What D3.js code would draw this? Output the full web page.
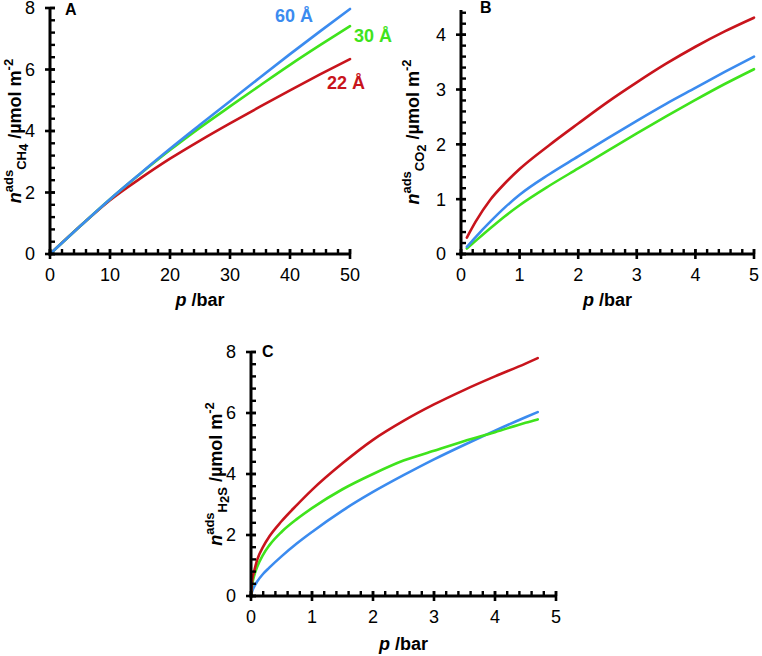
<!DOCTYPE html>
<html><head><meta charset="utf-8">
<script src="https://cdn.jsdelivr.net/npm/d3@7"></script>
<style>
body{margin:0;background:#fff;}
svg{display:block;font-family:"Liberation Sans",Arial,sans-serif;}
</style></head>
<body><svg id="c" width="762" height="656"></svg>
<script>
// ---------- data ----------
const pA = [0,5,10,15,20,25,30,35,40,45,50];
const a60 = [0,0.9,1.78,2.61,3.42,4.2,4.97,5.74,6.5,7.24,7.97];
const a30 = [0,0.9,1.78,2.6,3.38,4.11,4.8,5.48,6.15,6.79,7.41];
const a22 = [0,0.9,1.75,2.45,3.1,3.69,4.25,4.79,5.32,5.84,6.34];

const pB = [0.1,0.25,0.5,0.75,1,1.5,2,2.5,3,3.5,4,4.5,5];
const b60 = [0.13,0.31,0.59,0.85,1.08,1.45,1.78,2.11,2.43,2.74,3.03,3.32,3.60];
const b30 = [0.10,0.24,0.47,0.69,0.89,1.24,1.56,1.88,2.20,2.51,2.81,3.10,3.37];
const b22 = [0.30,0.59,0.99,1.29,1.55,1.98,2.38,2.77,3.13,3.47,3.78,4.06,4.31];

const pC = [0,0.02,0.05,0.1,0.2,0.3,0.5,0.75,1,1.5,2,2.5,3,3.5,4,4.5,4.7];
const c60 = [0,0.16,0.3,0.47,0.73,0.93,1.3,1.72,2.1,2.8,3.41,3.96,4.48,4.96,5.42,5.86,6.03];
const c30 = [0,0.38,0.65,0.95,1.36,1.66,2.1,2.52,2.88,3.5,4.0,4.44,4.76,5.08,5.37,5.68,5.79];
const c22 = [0,0.52,0.8,1.18,1.62,1.95,2.45,2.98,3.48,4.35,5.12,5.74,6.28,6.76,7.2,7.62,7.8];

const seriesNames = ["60 Å","30 Å","22 Å"];
const colors = {"60 Å":"#3b8bef","30 Å":"#3fe31c","22 Å":"#c8141c"};

const xTicksA = [0,10,20,30,40,50], yTicksA = [0,2,4,6,8];
const xTicksB = [0,1,2,3,4,5], yTicksB = [0,1,2,3,4];
const xTicksC = [0,1,2,3,4,5], yTicksC = [0,2,4,6,8];

const svg = d3.select("#c");
const fmt = d3.format("d");

function range(a,b,s){const r=[];for(let i=0;a+i*s<=b+1e-9;i++)r.push(+(a+i*s).toFixed(6));return r;}

function panel(cfg){
  const x = d3.scaleLinear().domain(cfg.xd).range(cfg.xr);
  const y = d3.scaleLinear().domain(cfg.yd).range(cfg.yr);
  const g = svg.append("g");
  const x0 = cfg.xr[0], y0 = cfg.yr[0];

  const line = d3.line().x(d=>x(d[0])).y(d=>y(d[1])).curve(d3.curveMonotoneX);
  cfg.series.forEach(s=>{
    g.append("path").datum(s.p.map((v,i)=>[v,s.v[i]]))
      .attr("d",line).attr("fill","none").attr("stroke",colors[s.name])
      .attr("stroke-width",2.6).attr("stroke-linecap","round");
  });

  const ax = g.append("g").attr("fill","#000");
  const tw = 2.6, mw = 2.4, ml = 5, Ml = 5;
  ax.selectAll(".ym").data(cfg.yMinor).join("rect").attr("class","ym")
    .attr("x",x0).attr("width",ml).attr("y",d=>y(d)-mw/2).attr("height",mw);
  ax.selectAll(".xm").data(cfg.xMinor).join("rect").attr("class","xm")
    .attr("y",y0-ml).attr("height",ml).attr("x",d=>x(d)-mw/2).attr("width",mw);
  ax.selectAll(".yM").data(cfg.yTicks).join("rect").attr("class","yM")
    .attr("x",x0-Ml).attr("width",2*Ml).attr("y",d=>y(d)-tw/2).attr("height",tw);
  ax.selectAll(".xM").data(cfg.xTicks).join("rect").attr("class","xM")
    .attr("y",y0-Ml).attr("height",2*Ml).attr("x",d=>x(d)-tw/2).attr("width",tw);
  ax.append("rect").attr("x",x0-1.5).attr("width",3).attr("y",cfg.yr[1]).attr("height",y0-cfg.yr[1]+1.5);
  ax.append("rect").attr("x",x0-1.5).attr("width",cfg.xr[1]-x0+1.5).attr("y",y0-1.5).attr("height",3);

  g.selectAll(".yl").data(cfg.yTicks).join("text").attr("class","yl")
    .attr("x",x0-15).attr("y",d=>y(d)).attr("dy","0.36em").attr("text-anchor","end")
    .attr("font-size",18).attr("fill","#000").text(fmt);
  g.selectAll(".xl").data(cfg.xTicks).join("text").attr("class","xl")
    .attr("x",d=>x(d)).attr("y",y0+14).attr("dy","0.71em").attr("text-anchor","middle")
    .attr("font-size",18).attr("fill","#000").text(fmt);

  g.append("text").attr("x",cfg.letterPos[0]).attr("y",cfg.letterPos[1])
    .attr("font-size",16).attr("font-weight","bold").text(cfg.letter);

  const xt = g.append("text").attr("x",(cfg.xr[0]+cfg.xr[1])/2).attr("y",cfg.xTitleY)
    .attr("text-anchor","middle").attr("font-size",18).attr("font-weight","bold");
  xt.append("tspan").attr("font-style","italic").text("p");
  xt.append("tspan").text(" /bar");

  const yc = (cfg.yr[0]+cfg.yr[1])/2;
  const yt = g.append("text").attr("transform",`translate(${cfg.yTitleX},${yc}) rotate(-90)`)
    .attr("text-anchor","middle").attr("font-size",18).attr("font-weight","bold");
  yt.append("tspan").attr("font-style","italic").text("n");
  yt.append("tspan").attr("font-size",13).attr("dy",-8).text("ads");
  yt.append("tspan").attr("font-size",13).attr("dy",13).text(cfg.subA);
  yt.append("tspan").attr("font-size",13).attr("dy",2).text(cfg.subB);
  if(cfg.subC) yt.append("tspan").attr("font-size",13).attr("dy",-2).text(cfg.subC);
  yt.append("tspan").attr("dy",cfg.subC ? -5 : -7).text(" /µmol m");
  yt.append("tspan").attr("font-size",13).attr("dy",-8).text("-2");
  return {x,y,g};
}

const A = panel({
  xd:[0,50], xr:[50,350], yd:[0,8], yr:[254,8],
  xTicks:xTicksA, yTicks:yTicksA, xMinor:range(0,50,2), yMinor:range(0,8,0.4),
  series:[{name:"22 Å",p:pA,v:a22},{name:"30 Å",p:pA,v:a30},{name:"60 Å",p:pA,v:a60}],
  letter:"A", letterPos:[65,15], xTitleY:306, yTitleX:21, subA:"CH", subB:"4"
});
const labelPos = {"60 Å":[313,22,"end"],"30 Å":[354,42,"start"],"22 Å":[327,89,"start"]};
seriesNames.forEach(n=>{
  A.g.append("text").attr("x",labelPos[n][0]).attr("y",labelPos[n][1])
    .attr("text-anchor",labelPos[n][2]).attr("font-size",18).attr("font-weight","bold")
    .attr("fill",colors[n]).text(n);
});

panel({
  xd:[0,5], xr:[461,754], yd:[0,4.45], yr:[254,10],
  xTicks:xTicksB, yTicks:yTicksB, xMinor:range(0,5,0.2), yMinor:range(0,4.4,0.2),
  series:[{name:"30 Å",p:pB,v:b30},{name:"60 Å",p:pB,v:b60},{name:"22 Å",p:pB,v:b22}],
  letter:"B", letterPos:[480,13], xTitleY:306, yTitleX:419, subA:"CO", subB:"2"
});

panel({
  xd:[0,5], xr:[251,556], yd:[0,8], yr:[596,352],
  xTicks:xTicksC, yTicks:yTicksC, xMinor:range(0,5,0.2), yMinor:range(0,8,0.4),
  series:[{name:"60 Å",p:pC,v:c60},{name:"30 Å",p:pC,v:c30},{name:"22 Å",p:pC,v:c22}],
  letter:"C", letterPos:[262,357], xTitleY:650, yTitleX:222, subA:"H", subB:"2", subC:"S"
});
</script></body></html>
